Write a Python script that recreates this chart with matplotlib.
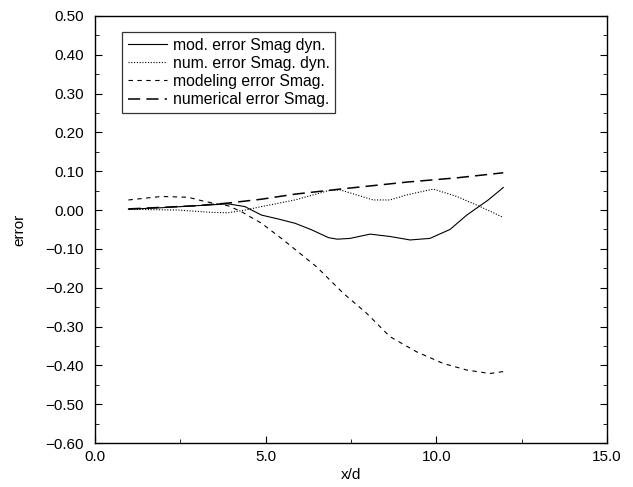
import numpy as np
import matplotlib
matplotlib.use("Agg")
from matplotlib import pyplot as plt
from matplotlib.ticker import MultipleLocator, FuncFormatter

plt.rcParams['font.family'] = ['Liberation Sans', 'DejaVu Sans']

# mod. error Smag dyn.
x_mod_dyn = [0.98, 1.95, 2.93, 3.9, 4.39, 4.88, 5.37, 5.86, 6.35, 6.84, 7.1, 7.47, 8.06, 8.64, 9.23, 9.81, 10.4, 10.89, 11.52, 11.96]
y_mod_dyn = [0.002, 0.006, 0.011, 0.016, 0.009, -0.013, -0.023, -0.034, -0.051, -0.071, -0.075, -0.073, -0.062, -0.068, -0.077, -0.073, -0.050, -0.013, 0.026, 0.058]

# num. error Smag. dyn.
x_num_dyn = [0.98, 2.44, 3.42, 3.9, 4.39, 4.88, 5.86, 6.84, 7.18, 8.15, 8.64, 9.13, 9.91, 10.6, 11.28, 11.96]
y_num_dyn = [0.002, 0.0, -0.006, -0.007, 0.0, 0.009, 0.026, 0.050, 0.052, 0.026, 0.026, 0.039, 0.054, 0.035, 0.009, -0.019]

# modeling error Smag.
x_mod = [0.98, 1.95, 2.73, 3.22, 3.9, 4.29, 4.54, 4.88, 5.52, 6.49, 7.27, 7.96, 8.64, 9.42, 10.2, 10.89, 11.57, 11.96]
y_mod = [0.026, 0.035, 0.033, 0.022, 0.011, -0.004, -0.017, -0.034, -0.077, -0.146, -0.214, -0.266, -0.326, -0.365, -0.395, -0.412, -0.421, -0.416]

# numerical error Smag.
x_num = [0.98, 2.93, 3.9, 4.88, 5.86, 7.18, 9.13, 10.6, 11.96]
y_num = [0.003, 0.011, 0.018, 0.028, 0.041, 0.054, 0.072, 0.083, 0.096]

fig = plt.figure(figsize=(6.33, 4.87), dpi=100)
ax = fig.add_axes([0.150, 0.0903, 0.809, 0.877])

ax.plot(x_mod_dyn, y_mod_dyn, color='black', linewidth=0.8, label='mod. error Smag dyn.')
ax.plot(x_num_dyn, y_num_dyn, color='black', linewidth=0.8, linestyle=(0, (1, 1.5)), label='num. error Smag. dyn.')
ax.plot(x_mod, y_mod, color='black', linewidth=0.8, linestyle=(0, (4, 4)), label='modeling error Smag.')
ax.plot(x_num, y_num, color='black', linewidth=1.1, linestyle=(0, (8, 4)), label='numerical error Smag.')

ax.set_xlim(0, 15)
ax.set_ylim(-0.6, 0.5)
ax.xaxis.set_major_locator(MultipleLocator(5))
ax.xaxis.set_minor_locator(MultipleLocator(2.5))
ax.yaxis.set_major_locator(MultipleLocator(0.1))
ax.yaxis.set_minor_locator(MultipleLocator(0.05))
ax.xaxis.set_major_formatter(FuncFormatter(lambda v, p: "%.1f" % v))
ax.yaxis.set_major_formatter(FuncFormatter(lambda v, p: ("%.2f" % (0.0 if abs(v) < 1e-9 else v)).replace('-', '\u2212')))
ax.tick_params(axis='both', which='both', direction='in', labelsize=11, right=True, top=False)
ax.tick_params(axis='both', which='major', length=5)
ax.tick_params(axis='both', which='minor', length=3)
ax.tick_params(axis='y', which='major', pad=8)
ax.tick_params(axis='x', which='major', pad=5)
for s in ax.spines.values():
    s.set_linewidth(1.0)

ax.set_xlabel('x/d', fontsize=11, labelpad=3)
ax.set_ylabel('error', fontsize=11, labelpad=14)

leg = ax.legend(loc='upper left', bbox_to_anchor=(0.053, 0.962), fontsize=11.3,
                frameon=True, fancybox=False, edgecolor='black', handlelength=2.5,
                handletextpad=0.4, borderpad=0.35, labelspacing=0.2, borderaxespad=0)
leg.get_frame().set_linewidth(0.9)

fig.savefig('out.png', dpi=100)
